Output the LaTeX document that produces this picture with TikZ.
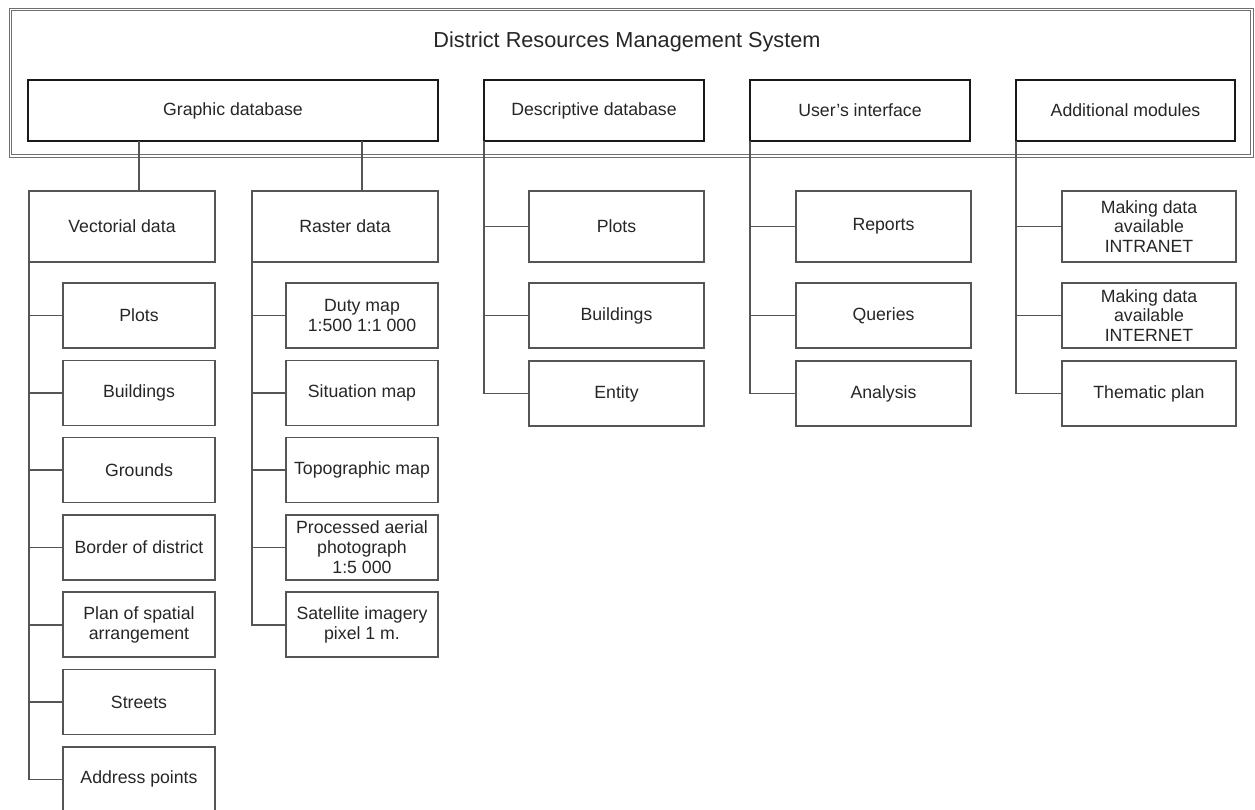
\documentclass[tikz,border=0pt]{standalone}
\usepackage{fontspec}
\setmainfont{Liberation Sans}
\usepackage{xcolor}
\usepackage{tikz}
\definecolor{linegray}{HTML}{555555}
\definecolor{framegray}{HTML}{707070}
\definecolor{textgray}{HTML}{262626}

\begin{document}
\begin{tikzpicture}[x=1pt,y=-1pt,node distance=77.3pt,text=textgray,
  font=\fontsize{17.7}{19.5}\selectfont,
  mainbox/.style={draw=black!90,line width=2.6pt,minimum width=220pt,minimum height=61pt,inner sep=0pt,outer sep=0pt},
  groupbox/.style={draw=linegray,line width=1.6pt,minimum width=186pt,minimum height=71pt,inner sep=0pt,outer sep=0pt},
  leafbox/.style={draw=linegray,line width=1.6pt,minimum width=152pt,minimum height=65pt,inner sep=0pt,outer sep=0pt,align=center},
  link/.style={draw=linegray,line width=1.6pt},
  elbow/.style={link,to path={|- (\tikztotarget)}}]
\useasboundingbox (0,0) rectangle (1255,810);

% outer frame and title
\draw[framegray,line width=1pt,double,double distance=1.8pt] (10.5,9.5) rectangle (1252,156);
\node[anchor=base,font=\fontsize{21.7}{24}\selectfont] (title) at (627,48) {District Resources Management System};

% main modules
\node[mainbox,minimum width=410pt] (G) at (233,110.5) {Graphic database};
\node[mainbox] (D) at (594,110.5) {Descriptive database};
\node[mainbox] (U) at (860,110.5) {User's interface};
\node[mainbox,minimum width=219pt] (M) at (1125.5,110.5) {Additional modules};

% graphic database
\node[groupbox] (V) at (122,226.5) {Vectorial data};
\node[groupbox] (R) at (345,226.5) {Raster data};

\node[leafbox] (V1) at (139,315.5) {Plots};
\node[leafbox] (V2) [below of = V1] {Buildings};
\node[leafbox] (V3) [below of = V2] {Grounds};
\node[leafbox] (V4) [below of = V3] {Border of district};
\node[leafbox] (V5) [below of = V4] {Plan of spatial\\arrangement};
\node[leafbox] (V6) [below of = V5] {Streets};
\node[leafbox] (V7) [below of = V6] {Address points};

\node[leafbox] (R1) at (362,315.5) {Duty map\\1:500 1:1 000};
\node[leafbox] (R2) [below of = R1] {Situation map};
\node[leafbox] (R3) [below of = R2] {Topographic map};
\node[leafbox,font=\fontsize{17.7}{20}\selectfont] (R4) [below of = R3] {Processed aerial\\photograph\\1:5 000};
\node[leafbox] (R5) [below of = R4] {Satellite imagery\\pixel 1 m.};

% descriptive database, interface, modules
\node[leafbox,minimum width=175pt,minimum height=71pt] (D1) at (616.5,226.5) {Plots};
\node[leafbox,minimum width=175pt] (D2) at (616.5,315.5) {Buildings};
\node[leafbox,minimum width=175pt] (D3) at (616.5,393.5) {Entity};

\node[leafbox,minimum width=175pt,minimum height=71pt] (U1) at (883.5,226.5) {Reports};
\node[leafbox,minimum width=175pt] (U2) at (883.5,315.5) {Queries};
\node[leafbox,minimum width=175pt] (U3) at (883.5,393.5) {Analysis};

\node[leafbox,minimum width=174pt,minimum height=71pt] (M1) at (1149,226.5) {Making data\\available\\INTRANET};
\node[leafbox,minimum width=174pt] (M2) at (1149,315.5) {Making data\\available\\INTERNET};
\node[leafbox,minimum width=174pt] (M3) at (1149,393.5) {Thematic plan};

% connectors
\draw[link] (G.south -| V1) -- (V.north -| V1);
\draw[link] (G.south -| R1) -- (R.north -| R1);

\path (V.south west) edge[elbow] (V1) edge[elbow] (V2) edge[elbow] (V3) edge[elbow] (V4)
      edge[elbow] (V5) edge[elbow] (V6) edge[elbow] (V7);
\path (R.south west) edge[elbow] (R1) edge[elbow] (R2) edge[elbow] (R3) edge[elbow] (R4) edge[elbow] (R5);
\path (D.south west) edge[elbow] (D1) edge[elbow] (D2) edge[elbow] (D3);
\path (U.south west) edge[elbow] (U1) edge[elbow] (U2) edge[elbow] (U3);
\path (M.south west) edge[elbow] (M1) edge[elbow] (M2) edge[elbow] (M3);

\end{tikzpicture}
\end{document}
